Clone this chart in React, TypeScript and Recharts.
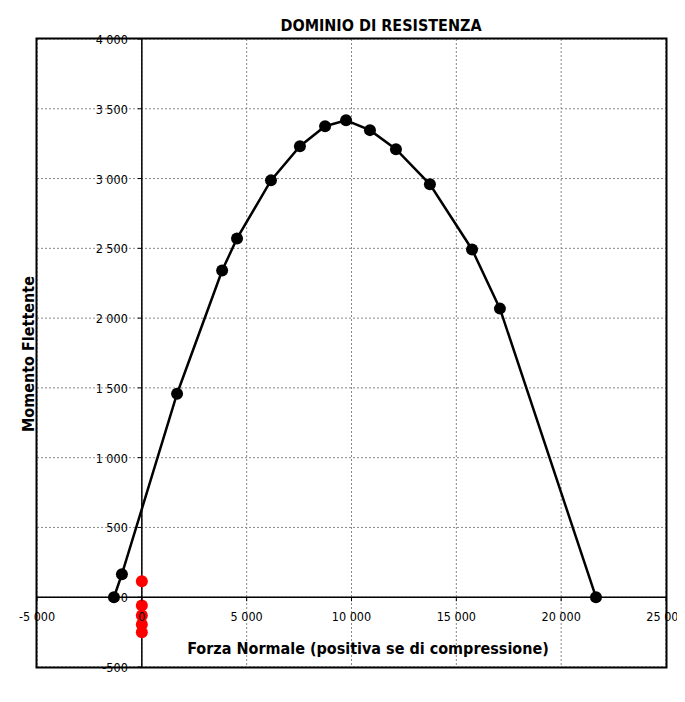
import React from 'react'
import {
  ScatterChart,
  Scatter,
  XAxis,
  YAxis,
  CartesianGrid,
  ReferenceLine,
} from 'recharts'

// dominio: forza normale (x) / momento flettente (y)
const forzaNormale = [-1330, -950, 1680, 3830, 4540, 6160, 7540, 8740, 9740, 10880, 12120, 13740, 15750, 17080, 21660]
const momento = [0, 165, 1458, 2341, 2571, 2987, 3232, 3375, 3418, 3347, 3210, 2959, 2492, 2068, 0]

// sollecitazioni di verifica
const forzaVerifica = [0, 0, 0, 0, 0]
const momentoVerifica = [115, -60, -131, -196, -251]

const xTicks = [-5000, 0, 5000, 10000, 15000, 20000, 25000]
const yTicks = [-500, 0, 500, 1000, 1500, 2000, 2500, 3000, 3500, 4000]

const dominio = forzaNormale.map((n, i) => ({ n, m: momento[i] }))
const verifica = forzaVerifica.map((n, i) => ({ n, m: momentoVerifica[i] }))

const W = 685
const H = 702
const LEFT = 37
const TOP = 39
const RIGHT = 666
const BOTTOM = 667
const XMIN = xTicks[0]
const XMAX = xTicks[xTicks.length - 1]
const YMIN = yTicks[0]
const YMAX = yTicks[yTicks.length - 1]

// where the axes cross (origin), in pixels
const X0 = LEFT + ((RIGHT - LEFT) * (0 - XMIN)) / (XMAX - XMIN)
const Y0 = TOP + ((BOTTOM - TOP) * (YMAX - 0)) / (YMAX - YMIN)

const FONT = '"DejaVu Sans Condensed", "DejaVu Sans", sans-serif'

function fmt(v: number): string {
  const s = Math.abs(v).toString().replace(/\B(?=(\d{3})+(?!\d))/g, ' ')
  return v < 0 ? `-${s}` : s
}

function YTick({ y, payload }: any) {
  return (
    <g>
      <line x1={X0 - 4} x2={X0} y1={y} y2={y} stroke="#000" />
      <text x={X0 - 14} y={y} dy={5} textAnchor="end" fontSize={12.5} fontFamily={FONT} fill="#000">
        {fmt(payload.value)}
      </text>
    </g>
  )
}

function XTick({ x, payload }: any) {
  return (
    <g>
      <line x1={x} x2={x} y1={Y0} y2={Y0 + 4} stroke="#000" />
      <text x={x} y={Y0 + 24} textAnchor="middle" fontSize={12.5} fontFamily={FONT} fill="#000">
        {fmt(payload.value)}
      </text>
    </g>
  )
}

const dot = (color: string, r: number) => (props: any) => (
  <circle cx={props.cx} cy={props.cy} r={r} fill={color} />
)

export default function App() {
  return (
    <div style={{ position: 'relative', width: W, height: H, marginLeft: -8, marginTop: -8, background: '#fff' }}>
      <div
        style={{
          position: 'absolute',
          left: 6,
          top: 6,
          width: W - 6,
          height: H - 6,
          borderLeft: '2px solid #777',
          borderTop: '2px solid #777',
          boxSizing: 'border-box',
        }}
      />
      <div style={{ position: 'absolute', left: 0, top: 0, width: W }}>
        <ScatterChart
          width={W}
          height={H}
          margin={{ top: TOP, left: LEFT - 1, right: W - RIGHT, bottom: H - BOTTOM - 1 }}
        >
          <CartesianGrid stroke="#888" strokeDasharray="2 2" />
          <XAxis
            type="number"
            dataKey="n"
            domain={[XMIN, XMAX]}
            ticks={xTicks}
            height={1}
            axisLine={false}
            tickLine={false}
            tick={<XTick />}
            interval={0}
          />
          <YAxis
            type="number"
            dataKey="m"
            domain={[YMIN, YMAX]}
            ticks={yTicks}
            width={1}
            axisLine={false}
            tickLine={false}
            tick={<YTick />}
            interval={0}
          />
          <ReferenceLine x={0} stroke="#000" strokeWidth={1.5} />
          <ReferenceLine y={0} stroke="#000" strokeWidth={1.5} />
          <Scatter
            data={dominio}
            line={{ stroke: '#000', strokeWidth: 2.5 }}
            lineType="joint"
            shape={dot('#000', 6)}
            isAnimationActive={false}
          />
          <Scatter data={verifica} shape={dot('#f00', 6)} isAnimationActive={false} />
        </ScatterChart>
      </div>
      <svg
        width={W}
        height={H}
        style={{ position: 'absolute', left: 0, top: 0, pointerEvents: 'none' }}
      >
        <rect
          x={LEFT - 0.5}
          y={TOP - 0.5}
          width={RIGHT - LEFT + 1}
          height={BOTTOM - TOP + 1}
          fill="none"
          stroke="#000"
          strokeWidth={2}
        />
      </svg>
      <div
        style={{
          position: 'absolute',
          left: 381,
          top: 25,
          transform: 'translate(-50%, -50%)',
          fontFamily: FONT,
          fontWeight: 'bold',
          fontSize: 16,
          whiteSpace: 'nowrap',
        }}
      >
        DOMINIO DI RESISTENZA
      </div>
      <div
        style={{
          position: 'absolute',
          left: 28,
          top: 354,
          transform: 'translate(-50%, -50%) rotate(-90deg)',
          fontFamily: FONT,
          fontWeight: 'bold',
          fontSize: 16,
          whiteSpace: 'nowrap',
        }}
      >
        Momento Flettente
      </div>
      <div
        style={{
          position: 'absolute',
          left: 368,
          top: 648,
          transform: 'translate(-50%, -50%)',
          fontFamily: FONT,
          fontWeight: 'bold',
          fontSize: 16,
          whiteSpace: 'nowrap',
        }}
      >
        Forza Normale (positiva se di compressione)
      </div>
    </div>
  )
}
